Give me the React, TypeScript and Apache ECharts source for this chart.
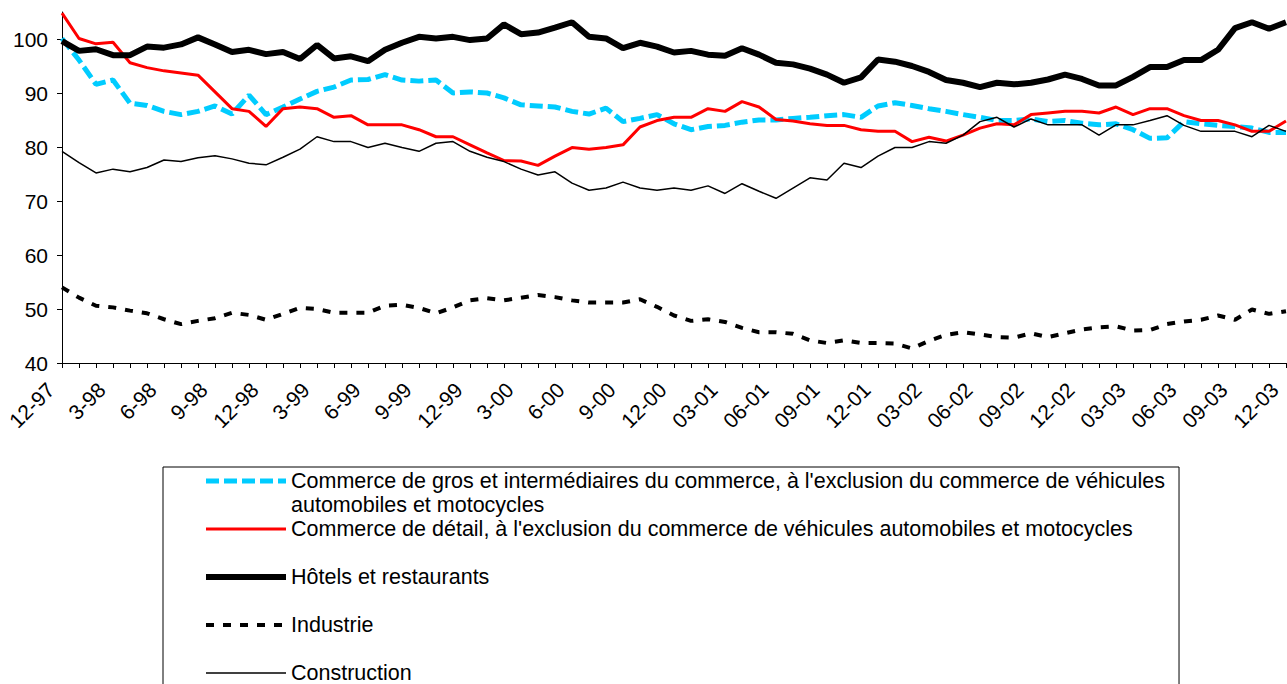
import React, { useEffect, useRef } from "react";
import * as echarts from "echarts";

const months: string[] = (() => {
  const out: string[] = [];
  let m = 12;
  let y = 1997;
  for (let i = 0; i < 73; i++) {
    const yy = String(y % 100).padStart(2, "0");
    const mm = y >= 2001 ? String(m).padStart(2, "0") : String(m);
    out.push(`${mm}-${yy}`);
    m++;
    if (m > 12) {
      m = 1;
      y++;
    }
  }
  return out;
})();

const seriesNames = [
  "Commerce de gros et intermédiaires du commerce, à l'exclusion du commerce de véhicules automobiles et motocycles",
  "Commerce de détail, à l'exclusion du commerce de véhicules automobiles et motocycles",
  "Hôtels et restaurants",
  "Industrie",
  "Construction",
];

const gros = [
  100.1, 96.1, 91.6, 92.4, 88.1, 87.7, 86.6, 86.0, 86.6, 87.6, 86.1, 89.6, 86.0,
  87.4, 88.9, 90.3, 91.1, 92.4, 92.5, 93.4, 92.4, 92.2, 92.4, 90.0, 90.2,
  90.0, 89.1, 87.8, 87.6, 87.4, 86.6, 86.1, 87.2, 84.7, 85.3, 86.0, 84.3,
  83.2, 83.8, 84.0, 84.6, 85.0, 85.0, 85.3, 85.5, 85.8, 86.0, 85.5, 87.6,
  88.2, 87.7, 87.1, 86.6, 86.0, 85.5, 84.9, 84.9, 85.2, 84.7, 84.9, 84.4,
  84.1, 84.3, 83.2, 81.6, 81.7, 84.7, 84.3, 84.0, 83.8, 83.5, 82.7, 82.7,
];

const detail = [
  104.8, 100.1, 99.1, 99.4, 95.6, 94.7, 94.1, 93.7, 93.3, 90.2, 87.1, 86.6, 83.8,
  87.1, 87.4, 87.1, 85.5, 85.8, 84.1, 84.1, 84.1, 83.2, 81.9, 81.9, 80.4,
  78.9, 77.5, 77.4, 76.6, 78.3, 79.9, 79.6, 79.9, 80.4, 83.7, 84.9, 85.5,
  85.5, 87.1, 86.6, 88.4, 87.4, 85.1, 84.8, 84.3, 84.0, 84.0, 83.2, 82.9,
  82.9, 81.0, 81.8, 81.1, 82.2, 83.5, 84.3, 84.1, 86.0, 86.3, 86.6, 86.6,
  86.3, 87.4, 86.0, 87.1, 87.1, 85.8, 84.9, 84.9, 84.1, 82.9, 82.9, 84.8,
];

const hotels = [
  99.6, 97.8, 98.1, 97.0, 97.0, 98.6, 98.4, 99.0, 100.3, 99.0, 97.6, 98.0, 97.2,
  97.6, 96.3, 98.9, 96.4, 96.8, 95.9, 98.0, 99.3, 100.4, 100.1, 100.4, 99.8,
  100.1, 102.7, 100.9, 101.2, 102.1, 103.1, 100.4, 100.1, 98.3, 99.3, 98.6, 97.5,
  97.8, 97.1, 96.9, 98.3, 97.1, 95.6, 95.3, 94.5, 93.4, 91.9, 92.9, 96.2,
  95.8, 95.0, 93.9, 92.4, 91.9, 91.1, 91.9, 91.6, 91.9, 92.5, 93.4, 92.6,
  91.4, 91.4, 93.0, 94.8, 94.8, 96.1, 96.1, 98.0, 102.0, 103.1, 101.9, 103.1,
];

const industrie = [
  54.0, 52.1, 50.6, 50.3, 49.7, 49.2, 48.1, 47.2, 47.8, 48.3, 49.3, 48.9, 48.0,
  49.1, 50.2, 50.0, 49.3, 49.3, 49.3, 50.6, 50.8, 50.2, 49.2, 50.3, 51.6,
  52.0, 51.6, 52.1, 52.6, 52.2, 51.6, 51.2, 51.2, 51.2, 51.8, 50.4, 48.8,
  47.8, 48.1, 47.6, 46.5, 45.7, 45.7, 45.4, 44.2, 43.7, 44.2, 43.7, 43.7,
  43.6, 42.7, 44.1, 45.2, 45.7, 45.3, 44.8, 44.7, 45.5, 44.8, 45.5, 46.2,
  46.6, 46.8, 46.0, 46.1, 47.2, 47.7, 48.0, 48.8, 48.0, 49.9, 49.1, 49.6,
];

const construction = [
  79.2, 77.1, 75.2, 75.9, 75.4, 76.2, 77.6, 77.3, 78.0, 78.4, 77.8, 77.0, 76.7,
  78.1, 79.6, 81.9, 81.0, 81.0, 79.9, 80.7, 79.9, 79.2, 80.7, 81.0, 79.2,
  78.1, 77.3, 75.9, 74.8, 75.4, 73.3, 72.0, 72.4, 73.5, 72.4, 72.0, 72.4,
  72.0, 72.8, 71.4, 73.2, 71.8, 70.5, 72.4, 74.3, 73.9, 77.0, 76.2, 78.3,
  79.9, 79.9, 81.0, 80.7, 82.2, 84.7, 85.5, 83.7, 85.2, 84.1, 84.1, 84.1,
  82.2, 84.1, 84.1, 84.9, 85.8, 84.0, 82.9, 82.9, 82.9, 81.9, 84.0, 82.9,
];

const firstLegendLine =
  "Commerce de gros et intermédiaires du commerce, à l'exclusion du commerce de véhicules";
const secondLegendLine = "automobiles et motocycles";

const FONT = '"Liberation Sans", Arial, Helvetica, sans-serif';

const lineStyles: any[] = [
  { color: "#00CCFF", width: 5, type: [13, 5], cap: "butt" },
  { color: "#FF0000", width: 3, type: "solid" },
  { color: "#000000", width: 6, type: "solid" },
  { color: "#000000", width: 4, type: [8, 9], cap: "butt" },
  { color: "#000000", width: 1.5, type: "solid" },
];

export default function App() {
  const ref = useRef<HTMLDivElement>(null);

  useEffect(() => {
    if (!ref.current) return;
    const chart = echarts.init(ref.current, undefined, { renderer: "svg" });
    const seriesData = [gros, detail, hotels, industrie, construction];
    const option: any = {
      animation: false,
      backgroundColor: "#ffffff",
      textStyle: { fontFamily: FONT },
      grid: { left: 62, right: 1, top: 12, bottom: 321, containLabel: false },
      xAxis: {
        type: "category",
        data: months,
        boundaryGap: false,
        axisLine: { show: true, lineStyle: { color: "#000", width: 1 } },
        axisTick: { show: true, interval: 0, length: 5, lineStyle: { color: "#000" } },
        axisLabel: {
          interval: 2,
          rotate: 45,
          fontSize: 21,
          fontFamily: FONT,
          color: "#000",
          margin: 12,
          padding: [0, 16, 0, 0],
        },
        splitLine: { show: false },
      },
      yAxis: {
        type: "value",
        min: 40,
        max: 105,
        interval: 10,
        axisLine: { show: true, lineStyle: { color: "#000", width: 1 } },
        axisTick: { show: true, length: 5, lineStyle: { color: "#000" } },
        axisLabel: {
          fontSize: 21,
          fontFamily: FONT,
          color: "#000",
          margin: 14,
          showMaxLabel: false,
          formatter: (v: number) => (v > 100 ? "" : String(v)),
        },
        splitLine: { show: false },
      },
      legend: {
        orient: "vertical",
        left: 163,
        top: 467,
        height: 260,
        padding: [2, 14, 30, 40],
        itemWidth: 80,
        itemHeight: 14,
        itemGap: 24,
        borderColor: "#000",
        borderWidth: 1,
        backgroundColor: "#fff",
        selectedMode: false,
        itemStyle: { opacity: 0 },
        textStyle: { fontSize: 21.5, lineHeight: 24, fontFamily: FONT, color: "#000" },
        formatter: (n: string) => (n === seriesNames[0] ? firstLegendLine : n),
        data: seriesNames.map((name, i) => ({
          name,
          lineStyle: { ...lineStyles[i] },
          itemStyle: { opacity: 0 },
        })),
      },
      graphic: [
        {
          type: "text",
          x: 291,
          y: 505,
          z: 100,
          style: {
            text: secondLegendLine,
            fontSize: 21.5,
            fontFamily: FONT,
            fill: "#000",
            verticalAlign: "middle",
            align: "left",
          },
        },
      ],
      series: seriesNames.map((name, i) => ({
        name,
        type: "line",
        data: seriesData[i],
        symbol: "none",
        lineStyle: { ...lineStyles[i] },
        itemStyle: { color: lineStyles[i].color },
      })),
    };
    chart.setOption(option);
    return () => {
      chart.dispose();
    };
  }, []);

  return (
    <div
      ref={ref}
      style={{ position: "absolute", left: 0, top: 0, width: 1287, height: 684, background: "#fff" }}
    />
  );
}
